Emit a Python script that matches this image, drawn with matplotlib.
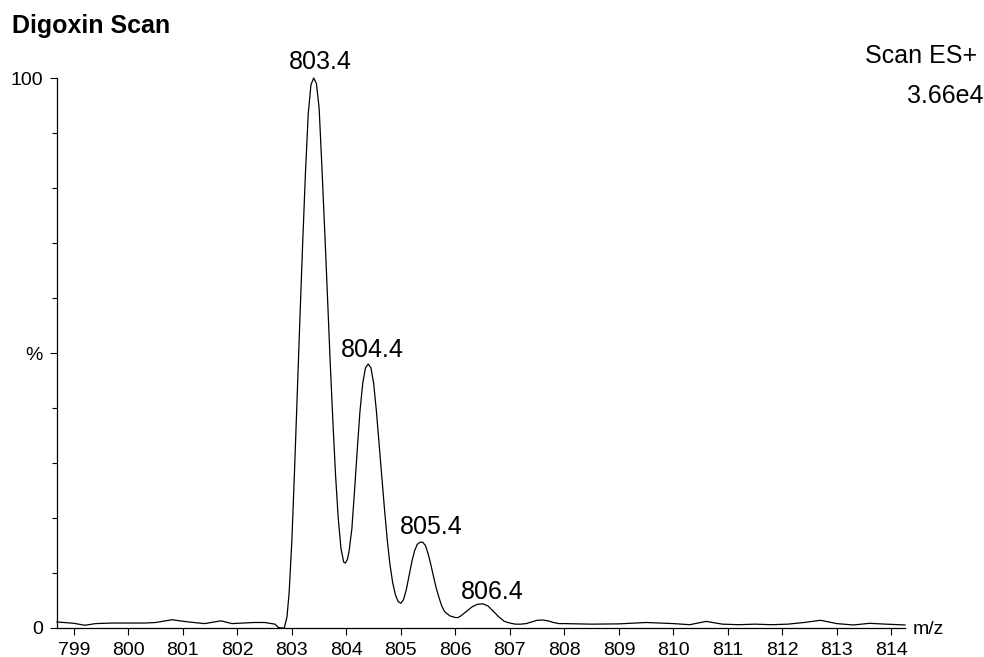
import matplotlib
matplotlib.use("Agg")
import matplotlib.pyplot as plt
from matplotlib.ticker import MultipleLocator

plt.rcParams['font.family'] = ['Liberation Sans', 'DejaVu Sans']

# m/z values and relative intensity (%)
mz = [798.69, 799.0, 799.2, 799.4, 799.7, 800.0, 800.3, 800.5, 800.8, 801.1,
      801.4, 801.7, 801.9, 802.1, 802.3, 802.5, 802.69, 802.75, 802.8, 802.86,
      802.91, 802.95, 803.0, 803.05, 803.1, 803.15, 803.2, 803.25, 803.3, 803.35,
      803.4, 803.45, 803.5, 803.55, 803.61, 803.65, 803.7, 803.75, 803.8, 803.85,
      803.9, 803.95, 803.98, 804.02, 804.05, 804.1, 804.15, 804.2, 804.25, 804.3,
      804.35, 804.4, 804.45, 804.5, 804.55, 804.6, 804.65, 804.7, 804.75, 804.8,
      804.85, 804.9, 804.95, 805.0, 805.05, 805.1, 805.15, 805.2, 805.25, 805.3,
      805.35, 805.4, 805.45, 805.5, 805.55, 805.6, 805.65, 805.7, 805.75, 805.8,
      805.9, 806.0, 806.05, 806.1, 806.2, 806.3, 806.4, 806.5, 806.6, 806.7,
      806.8, 806.9, 807.0, 807.1, 807.2, 807.3, 807.4, 807.5, 807.6, 807.7,
      807.8, 807.9, 808.0, 808.5, 809.0, 809.5, 810.0, 810.3, 810.6, 810.9,
      811.2, 811.5, 811.8, 812.1, 812.4, 812.7, 813.0, 813.3, 813.6, 813.9,
      814.25]
intensity = [1.1, 0.85, 0.5, 0.8, 0.9, 0.9, 0.9, 1.0, 1.5, 1.1,
             0.8, 1.3, 0.8, 0.9, 1.0, 1.0, 0.7, 0.1, 0.0, 0.0,
             2.0, 6.5, 16.0, 29.0, 43.0, 57.0, 70.5, 83.0, 93.5, 98.8,
             100.0, 99.0, 94.5, 84.0, 70.5, 61.0, 49.0, 38.0, 28.0, 20.0,
             14.5, 12.0, 11.8, 12.5, 14.0, 18.0, 25.0, 32.5, 39.5, 44.5,
             47.3, 48.0, 47.3, 44.5, 39.5, 33.5, 27.5, 21.5, 16.0, 11.5,
             8.2, 6.0, 4.8, 4.5, 5.2, 7.0, 9.5, 12.0, 14.0, 15.2,
             15.6, 15.6, 15.0, 13.5, 11.5, 9.3, 7.2, 5.5, 4.0, 3.0,
             2.2, 1.9, 1.9, 2.2, 3.0, 3.8, 4.3, 4.4, 4.0, 3.0,
             2.0, 1.2, 0.9, 0.7, 0.7, 0.8, 1.1, 1.4, 1.45, 1.3,
             1.0, 0.8, 0.8, 0.7, 0.75, 1.0, 0.8, 0.6, 1.2, 0.7,
             0.6, 0.7, 0.6, 0.7, 1.0, 1.4, 0.8, 0.55, 0.85, 0.7,
             0.55]

# peak labels
peak_labels = ["803.4", "804.4", "805.4", "806.4"]
label_x = [803.52, 804.47, 805.56, 806.67]
label_y = [101.6, 49.2, 17.1, 5.2]

fig = plt.figure(figsize=(9.84, 6.57), dpi=100)
ax = fig.add_axes([57 / 984, 29 / 657, 848 / 984, 550 / 657])

ax.plot(mz, intensity, color='black', linewidth=0.9, clip_on=False)

for lab, lx, ly in zip(peak_labels, label_x, label_y):
    ax.text(lx, ly, lab, ha='center', va='baseline', fontsize=18)

ax.set_xlim(798.69, 814.25)
ax.set_ylim(0, 100)

ax.set_xticks(range(799, 815))
ax.set_yticks([0, 50, 100])
ax.set_yticklabels(['0', '%', '100'])
ax.yaxis.set_minor_locator(MultipleLocator(10))

ax.spines['top'].set_visible(False)
ax.spines['right'].set_visible(False)
for s in ['left', 'bottom']:
    ax.spines[s].set_linewidth(0.9)

ax.tick_params(axis='both', which='both', direction='out', width=0.8, labelsize=14)
ax.tick_params(axis='x', which='major', length=5, pad=5)
ax.tick_params(axis='y', which='major', length=5, pad=5)
ax.tick_params(axis='y', which='minor', length=3.5)

fig.text(11.7 / 984, 1 - 33.3 / 657, "Digoxin Scan", fontsize=18, fontweight='bold',
         ha='left', va='baseline')
fig.text(976.7 / 984, 1 - 63.3 / 657, "Scan ES+", fontsize=18, ha='right', va='baseline')
fig.text(983.5 / 984, 1 - 102.7 / 657, "3.66e4", fontsize=18, ha='right', va='baseline')
fig.text(912.7 / 984, 1 - 634 / 657, "m/z", fontsize=14, ha='left', va='baseline')

fig.savefig("out.png", dpi=100)
